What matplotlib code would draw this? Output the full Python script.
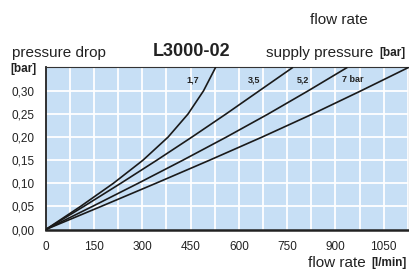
import matplotlib
matplotlib.use("Agg")
import matplotlib.pyplot as plt

# pressure drop levels [bar] and read-off flow rates [l/min] per supply pressure
dp = [0.00, 0.05, 0.10, 0.15, 0.20, 0.25, 0.30, 0.35]
flow_17 = [0, 108, 210, 302, 380, 442, 490, 527]
flow_35 = [0, 118, 233, 345, 454, 560, 663, 766]
flow_52 = [0, 145, 287, 426, 561, 691, 815, 935]
flow_70 = [0, 172, 342, 509, 672, 829, 979, 1125]

curve_labels = ["1,7", "3,5", "5,2", "7 bar"]
label_x = [458, 647, 799, 954]

x_ticks = [0, 150, 300, 450, 600, 750, 900, 1050]
y_ticks = [0.00, 0.05, 0.10, 0.15, 0.20, 0.25, 0.30]
y_ticklabels = ["0,00", "0,05", "0,10", "0,15", "0,20", "0,25", "0,30"]

plt.rcParams['font.family'] = ['Liberation Sans', 'DejaVu Sans']

W, H = 409, 273
fig = plt.figure(figsize=(W / 100, H / 100), dpi=100)
ax = fig.add_axes([45.8 / W, 1 - 229.5 / H, (408.5 - 45.8) / W, (229.5 - 67.3) / H])
ax.set_facecolor('#c7dff5')

# grid every 75 l/min and 0.05 bar
for gx in range(75, 1126, 75):
    ax.axvline(gx, color='white', lw=1.3, zorder=1)
for gy in [0.05, 0.10, 0.15, 0.20, 0.25, 0.30]:
    ax.axhline(gy, color='white', lw=1.3, zorder=1)

for fl in [flow_17, flow_35, flow_52, flow_70]:
    ax.plot(fl, dp, color='#1a1a1a', lw=1.2, zorder=3, solid_joinstyle='round')

for lab, lx in zip(curve_labels, label_x):
    ax.text(lx, 0.324, lab, fontsize=6.5, fontweight='bold', ha='center', va='center',
            color='#222222', zorder=4)

ax.set_xlim(0, 1127)
ax.set_ylim(0, 0.351)
ax.set_xticks(x_ticks)
ax.set_xticklabels([str(v) for v in x_ticks])
ax.set_yticks(y_ticks)
ax.set_yticklabels(y_ticklabels)
ax.tick_params(length=0, labelsize=8.5, colors='#222222')
ax.tick_params(axis='x', pad=8)
ax.tick_params(axis='y', pad=8)

for s in ['top', 'right']:
    ax.spines[s].set_linewidth(0.8)
    ax.spines[s].set_color('#333333')
ax.spines['left'].set_linewidth(1.3)
ax.spines['bottom'].set_linewidth(1.8)
ax.spines['left'].set_color('#222222')
ax.spines['bottom'].set_color('#222222')


def ftext(px, py, s, **kw):
    fig.text(px / W, 1 - py / H, s, **kw)


ftext(339, 20, "flow rate", fontsize=11, ha='center', va='center', color='#222222')
ftext(12, 53, "pressure drop", fontsize=11, ha='left', va='center', color='#222222')
ftext(192, 52, "L3000-02", fontsize=13, fontweight='bold', ha='center', va='center', color='#222222')
ftext(373, 53, "supply pressure", fontsize=11, ha='right', va='center', color='#222222')
ftext(406, 53, "[bar]", fontsize=8.5, fontweight='bold', ha='right', va='center', color='#222222')
ftext(10, 69, "[bar]", fontsize=8.5, fontweight='bold', ha='left', va='center', color='#222222')
ftext(366, 263, "flow rate", fontsize=11, ha='right', va='center', color='#222222')
ftext(407, 263, "[l/min]", fontsize=8.5, fontweight='bold', ha='right', va='center', color='#222222')

fig.savefig("out.png", dpi=100)
